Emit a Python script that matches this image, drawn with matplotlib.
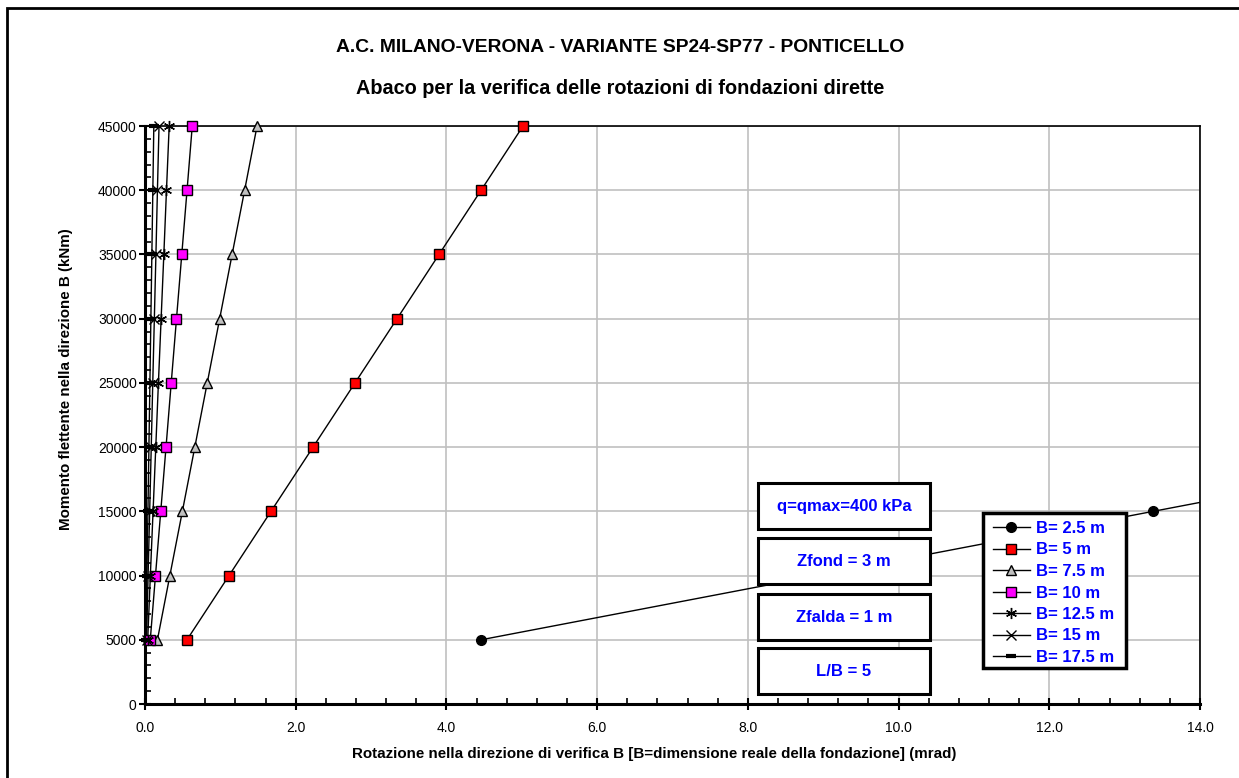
import numpy as np
import matplotlib
matplotlib.use("Agg")
import matplotlib.pyplot as plt
from matplotlib.patches import Rectangle
from matplotlib.ticker import MultipleLocator, FormatStrFormatter

plt.rcParams['font.family'] = ['Liberation Sans', 'DejaVu Sans']

# momenti (kNm)
momenti = [5000, 10000, 15000, 20000, 25000, 30000, 35000, 40000, 45000]

# rotazioni (mrad)
rot_b25 = [4.46, 8.92, 13.38, 17.84, 22.30, 26.76, 31.22, 35.68, 40.14]
rot_b5 = [0.557, 1.115, 1.672, 2.230, 2.787, 3.345, 3.902, 4.460, 5.017]
rot_b75 = [0.165, 0.330, 0.496, 0.661, 0.826, 0.991, 1.156, 1.322, 1.487]
rot_b10 = [0.070, 0.139, 0.209, 0.279, 0.348, 0.418, 0.488, 0.558, 0.627]
rot_b125 = [0.036, 0.071, 0.107, 0.143, 0.178, 0.214, 0.250, 0.285, 0.321]
rot_b15 = [0.021, 0.041, 0.062, 0.083, 0.103, 0.124, 0.145, 0.165, 0.186]
rot_b175 = [0.013, 0.026, 0.039, 0.052, 0.065, 0.078, 0.091, 0.104, 0.117]

etichette = ['B= 2.5 m', 'B= 5 m', 'B= 7.5 m', 'B= 10 m', 'B= 12.5 m', 'B= 15 m', 'B= 17.5 m']
box_testi = ['q=qmax=400 kPa', 'Zfond = 3 m', 'Zfalda = 1 m', 'L/B = 5']

W, H = 1239, 778
fig = plt.figure(figsize=(W/100, H/100), dpi=100)
ax = fig.add_axes([145/W, 1-704/H, (1200-145)/W, (704-126)/H])

stili = [
    dict(marker='o', mfc='black', mec='black', ms=7),
    dict(marker='s', mfc='#ff0000', mec='black', ms=7),
    dict(marker='^', mfc='#c0c0c0', mec='black', ms=7.5),
    dict(marker='s', mfc='#ff00ff', mec='black', ms=7),
    dict(marker=(6, 2, 0), mfc='black', mec='black', ms=8),
    dict(marker='x', mfc='black', mec='black', ms=7),
    dict(marker='_', mfc='black', mec='black', ms=7, mew=3),
]
serie = [rot_b25, rot_b5, rot_b75, rot_b10, rot_b125, rot_b15, rot_b175]

xmax = 14.0
handles = []
for rot, st, lab in zip(serie, stili, etichette):
    x = np.array(rot)
    y = np.array(momenti)
    ax.plot(x, y, color='black', lw=1.0, zorder=3)
    dentro = x <= xmax
    mew = st.pop('mew', 1.0)
    ax.plot(x[dentro], y[dentro], ls='none', zorder=4, clip_on=False, mew=mew, **st)
    h, = ax.plot([], [], color='black', lw=1.0, mew=mew, **st)
    handles.append(h)

ax.set_xlim(0, xmax)
ax.set_ylim(0, 45000)
ax.xaxis.set_major_locator(MultipleLocator(2))
ax.xaxis.set_minor_locator(MultipleLocator(0.4))
ax.yaxis.set_major_locator(MultipleLocator(5000))
ax.yaxis.set_minor_locator(MultipleLocator(1000))
ax.xaxis.set_major_formatter(FormatStrFormatter('%.1f'))
ax.grid(True, which='major', color='#c0c0c0', lw=1.2, zorder=0)
ax.set_axisbelow(True)

ax.tick_params(axis='both', which='major', direction='inout', length=8, width=1.5,
               labelsize=10, colors='black')
ax.tick_params(axis='x', which='major', pad=8)
ax.tick_params(axis='y', which='major', pad=2)
ax.tick_params(axis='both', which='minor', direction='in', length=4, width=1.2)
ax.tick_params(top=False, right=False, which='both')

for s in ['left', 'bottom']:
    ax.spines[s].set_linewidth(2.2)
for s in ['top', 'right']:
    ax.spines[s].set_linewidth(1.2)

# titoli ed etichette assi
fig.text(620/W, 1-47/H, 'A.C. MILANO-VERONA - VARIANTE SP24-SP77 - PONTICELLO',
         ha='center', va='center', fontsize=13.9, fontweight='bold')
fig.text(620/W, 1-89/H, 'Abaco per la verifica delle rotazioni di fondazioni dirette',
         ha='center', va='center', fontsize=14.3, fontweight='bold')
fig.text(352/W, 1-754/H,
         'Rotazione nella direzione di verifica B [B=dimensione reale della fondazione] (mrad)',
         ha='left', va='center', fontsize=10.9, fontweight='bold')
fig.text(66/W, 1-379/H, 'Momento flettente nella direzione B (kNm)',
         ha='center', va='center', rotation=90, fontsize=10.9, fontweight='bold')

# riquadri con i parametri
box_y = [483, 538, 594, 648]
for t, yb in zip(box_testi, box_y):
    fig.add_artist(Rectangle((758/W, 1-(yb+46)/H), 172/W, 46/H, transform=fig.transFigure,
                             facecolor='white', edgecolor='black', lw=2.2, zorder=5))
    fig.text(844/W, 1-(yb+23)/H, t, ha='center', va='center', fontsize=12,
             fontweight='bold', color='#0000ff', zorder=6)

# legenda: cornice disegnata a parte
fig.add_artist(Rectangle((983/W, 1-668/H), 143/W, 155/H, transform=fig.transFigure,
                         facecolor='white', edgecolor='black', lw=2.5, zorder=5))
leg = fig.legend(handles, etichette, loc='upper left',
                 bbox_to_anchor=(993/W, 1-521/H), bbox_transform=fig.transFigure,
                 frameon=False, fontsize=12,
                 handlelength=2.2, handletextpad=0.4, labelspacing=0.39,
                 borderpad=0, borderaxespad=0)
leg.set_zorder(6)
for t in leg.get_texts():
    t.set_color('#0000ff')
    t.set_fontweight('bold')

# cornice esterna
fig.add_artist(Rectangle((7/W, -0.01), 1.05, 1-8/H + 0.01, transform=fig.transFigure,
                         facecolor='none', edgecolor='black', lw=2, zorder=0))

fig.savefig('out.png', dpi=100)
